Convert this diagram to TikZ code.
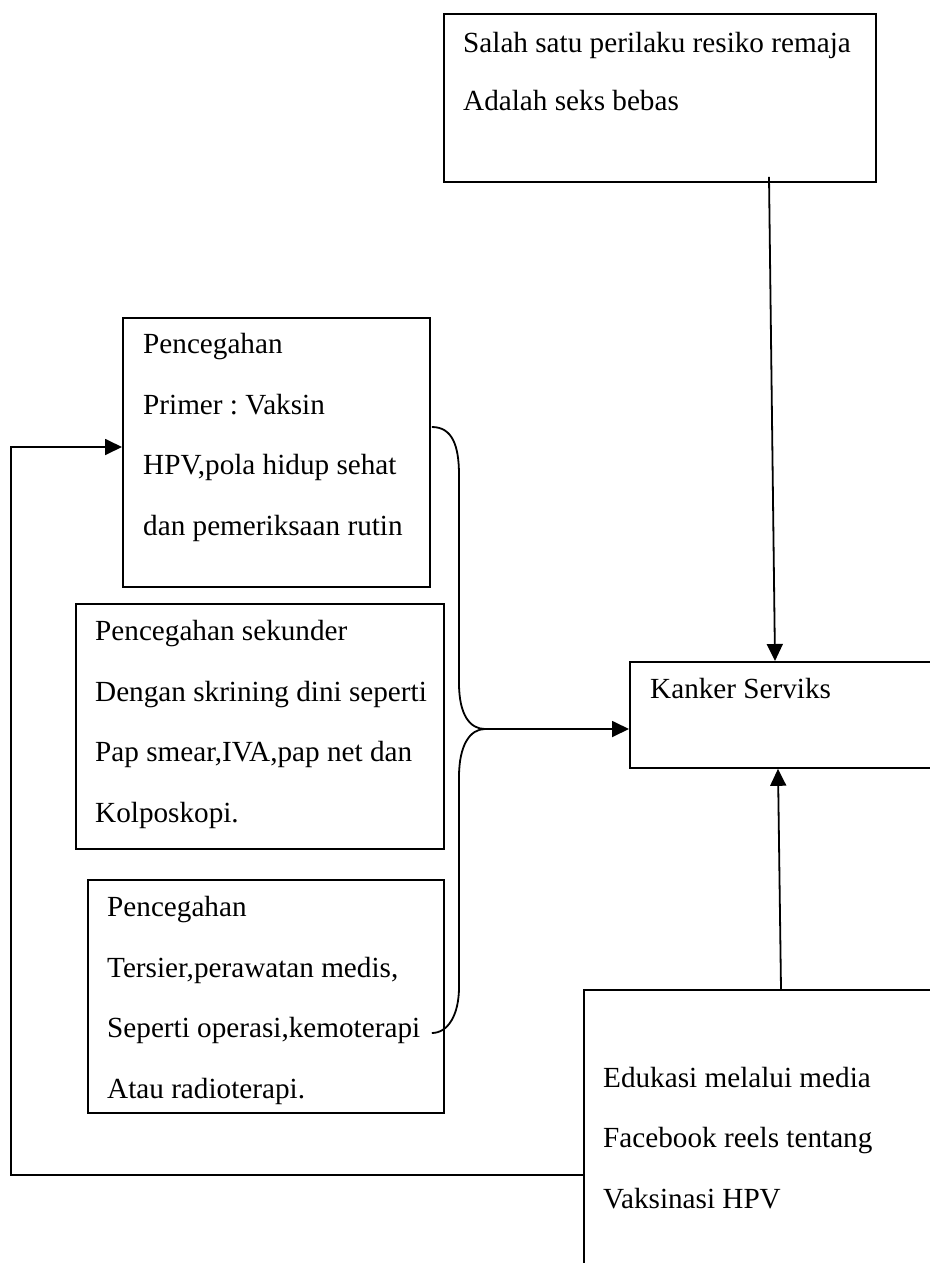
\documentclass[tikz,border=0pt]{standalone}
\usepackage{fontspec}
\setmainfont{Liberation Serif}
\frenchspacing
\usetikzlibrary{arrows.meta,calc}
\tikzset{
  boxnode/.style={draw, line width=1.8pt, anchor=north west, inner sep=0pt},
  txt/.style={anchor=base west, inner sep=0pt, align=left,
    font=\fontsize{29.2}{60.5}\selectfont},
  conn/.style={line width=1.8pt},
  arr/.style={line width=1.8pt, -{Triangle[length=17pt,width=16pt]}}
}
\begin{document}
\begin{tikzpicture}[x=1pt,y=-1pt]
\useasboundingbox (0,0) rectangle (929,1263);
% boxes
\node[boxnode, minimum width=432pt, minimum height=168pt] (top) at (443,13) {};
\node[boxnode, minimum width=307pt, minimum height=269pt] (primer) at (122,317) {};
\node[boxnode, minimum width=368pt, minimum height=245pt] (sek) at (75,603) {};
\node[boxnode, minimum width=356pt, minimum height=233pt] (ters) at (87,879) {};
\node[boxnode, minimum width=320pt, minimum height=106pt] (kanker) at (629,661) {};
\node[boxnode, minimum width=360pt, minimum height=300pt] (edu) at (583,989) {};
% texts (anchored at the baseline of their last line)
\node[txt, font=\fontsize{29.2}{58}\selectfont] (ttop) at (463,110) {Salah satu perilaku resiko remaja\\Adalah seks bebas};
\node[txt] (tprimer) at (143,535) {Pencegahan\\Primer : Vaksin\\HPV,pola hidup sehat\\dan pemeriksaan rutin};
\node[txt] (tsek) at (95,822) {Pencegahan sekunder\\Dengan skrining dini seperti\\Pap smear,IVA,pap net dan\\Kolposkopi.};
\node[txt] (tters) at (107,1098) {Pencegahan\\Tersier,perawatan medis,\\Seperti operasi,kemoterapi\\Atau radioterapi.};
\node[txt] (tkanker) at (650,698) {Kanker Serviks};
\node[txt] (tedu) at (603,1208) {Edukasi melalui media\\Facebook reels tentang\\Vaksinasi HPV};
% connector coordinates
\coordinate (topout) at ($(top.south west)+(326,-6)$);
\coordinate (kin) at ($(kanker.north west)+(146,0)$);
\coordinate (kbot) at ($(kanker.south west)+(149,0)$);
\coordinate (eduout) at ($(edu.north west)+(198,0)$);
\coordinate (kleft) at ($(kanker.north west)+(0,68)$);
\coordinate (ptop) at ($(primer.north east)+(1,110)$);
\coordinate (tend) at ($(ters.north east)+(-13,154)$);
\coordinate (tip) at (485,729);
\coordinate (fbstart) at ($(edu.north west)+(0,186)$);
\coordinate (pin) at ($(primer.north west)+(0,130)$);
% arrows
\draw[arr] (topout) -- (kin);
\draw[arr] (eduout) -- (kbot);
\draw[conn] (ptop) .. controls (452,427) and (459,445) .. (459,475) -- (459,683)
  .. controls (459,715) and (470,729) .. (tip)
  .. controls (470,729) and (459,745) .. (459,777) -- (459,987)
  .. controls (459,1015) and (448,1033) .. (tend);
\draw[arr] (tip) -- (kleft);
\draw[arr] (fbstart) -- (11,1175) -- (11,447) -- (pin);
\end{tikzpicture}
\end{document}
